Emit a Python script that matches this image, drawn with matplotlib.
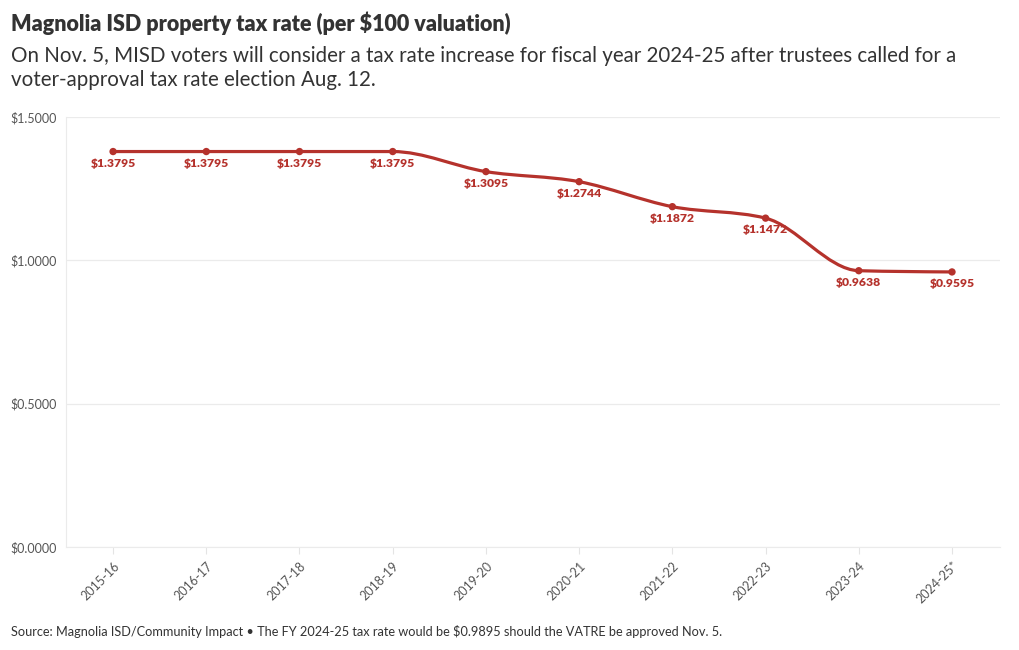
import numpy as np
import matplotlib.pyplot as plt
from matplotlib.path import Path
from matplotlib.patches import PathPatch

# Data
years = ['2015-16', '2016-17', '2017-18', '2018-19', '2019-20',
         '2020-21', '2021-22', '2022-23', '2023-24', '2024-25*']
rates = [1.3795, 1.3795, 1.3795, 1.3795, 1.3095,
         1.2744, 1.1872, 1.1472, 0.9638, 0.9595]
yticks = [0.0, 0.5, 1.0, 1.5]

RED = '#b5322c'
plt.rcParams['font.family'] = ['Lato', 'DejaVu Sans']

fig = plt.figure(figsize=(10.2, 6.5), dpi=100)
ax = fig.add_axes([66 / 1020, 1 - 547 / 650, 934 / 1020, 430 / 650])

x = np.arange(len(rates), dtype=float)
y = np.array(rates)


# monotone cubic (same as d3 curveMonotoneX) drawn as bezier path
def sign(v):
    return -1.0 if v < 0 else 1.0


n = len(x)
h = np.diff(x)
s = np.diff(y) / h
t = np.zeros(n)
for i in range(1, n - 1):
    h0, h1, s0, s1 = h[i - 1], h[i], s[i - 1], s[i]
    p = (s0 * h1 + s1 * h0) / (h0 + h1)
    t[i] = (sign(s0) + sign(s1)) * min(abs(s0), abs(s1), 0.5 * abs(p))
t[0] = (3 * s[0] - t[1]) / 2 if h[0] else t[1]
t[-1] = (3 * s[-1] - t[-2]) / 2 if h[-1] else t[-2]

verts = [(x[0], y[0])]
codes = [Path.MOVETO]
for i in range(n - 1):
    dx = (x[i + 1] - x[i]) / 3
    verts += [(x[i] + dx, y[i] + dx * t[i]),
              (x[i + 1] - dx, y[i + 1] - dx * t[i + 1]),
              (x[i + 1], y[i + 1])]
    codes += [Path.CURVE4] * 3
ax.add_patch(PathPatch(Path(verts, codes), fill=False, edgecolor=RED,
                       lw=2.3, capstyle='round', joinstyle='round', zorder=3))
ax.scatter(x, y, s=28, color=RED, zorder=4, edgecolors='none')

for xi, yi in zip(x, y):
    ax.annotate('${:.4f}'.format(yi), (xi, yi), xytext=(0, -4.5),
                textcoords='offset points', ha='center', va='top',
                fontsize=8.7, fontweight='heavy', color=RED, zorder=5)

ax.set_xlim(-0.505, 9.515)
ax.set_ylim(0, 1.5)
ax.set_yticks(yticks)
ax.set_yticklabels(['${:.4f}'.format(v) for v in yticks])
ax.set_xticks(x)
ax.set_xticklabels(years, rotation=45, ha='right', va='top',
                   rotation_mode='anchor')
ax.grid(axis='y', color='#ebebeb', lw=0.9)
ax.set_axisbelow(True)
for side in ['top', 'right']:
    ax.spines[side].set_visible(False)
ax.spines['left'].set_color('#ebebeb')
ax.spines['bottom'].set_color('#ebebeb')
ax.tick_params(axis='y', length=0, pad=7, labelsize=9, labelcolor='#555555')
ax.tick_params(axis='x', length=5, color='#e4e4e4', pad=4, labelsize=9,
               labelcolor='#555555')

fig.text(11 / 1020, 1 - 31 / 650, 'Magnolia ISD property tax rate (per $100 valuation)',
         fontsize=15.5, fontweight='heavy', color='#333333', va='baseline')
fig.text(11 / 1020, 1 - 86 / 650,
         'On Nov. 5, MISD voters will consider a tax rate increase for fiscal year 2024-25 after trustees called for a\n'
         'voter-approval tax rate election Aug. 12.',
         fontsize=14.8, color='#333333', linespacing=1.22, va='baseline')
fig.text(11 / 1020, 1 - 636 / 650,
         'Source: Magnolia ISD/Community Impact \u2022 The FY 2024-25 tax rate would be $0.9895 should the VATRE be approved Nov. 5.',
         fontsize=9.2, color='#333333', va='baseline')

fig.savefig('out.png', dpi=100)
